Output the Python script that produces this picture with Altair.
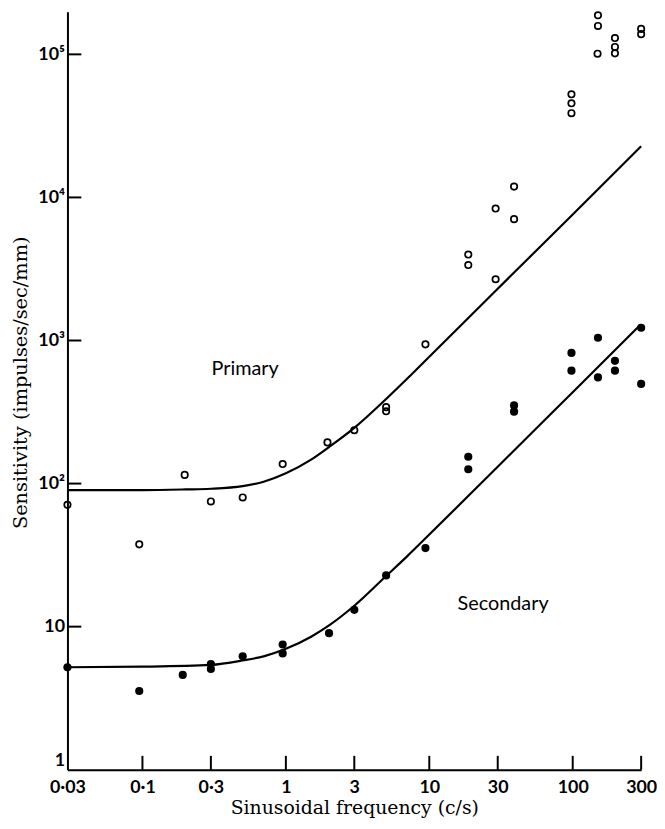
import json
import altair as alt
import pandas as pd

# ---- data ----
prim_f = [0.03, 0.095, 0.197, 0.3, 0.5, 0.95, 1.95, 3, 5, 5, 9.4, 18.7, 18.7, 29, 29,
          39, 39, 98, 98, 98, 150, 150, 149, 197, 197, 197, 300, 300]
prim_v = [71, 37.6, 115, 75, 80, 137, 194, 236, 342, 320, 940, 3990, 3370, 8360, 2680,
          11900, 7050, 52600, 45500, 38800, 187500, 158000, 101000, 130000, 112600, 101600,
          150600, 138400]

sec_f = [0.03, 0.095, 0.191, 0.3, 0.3, 0.5, 0.95, 0.95, 2, 3, 5, 9.4, 18.7, 18.7,
         39, 39, 98, 98, 150, 150, 197, 197, 300, 300]
sec_v = [5.2, 3.55, 4.6, 5.48, 5.06, 6.2, 7.5, 6.5, 9.0, 13.1, 22.8, 35.4, 154, 126,
         352, 318, 819, 615, 1045, 552, 721, 615, 1227, 497]

prim_curve_f = [0.03, 0.1, 0.2, 0.3, 0.5, 0.7, 1, 1.5, 2, 3, 5, 7, 10, 30, 100, 300]
prim_curve_v = [90, 90, 91, 92, 96, 103, 118, 147, 180, 245, 390, 540, 770, 2300, 7600, 22800]

sec_curve_f = [0.03, 0.1, 0.3, 0.5, 0.7, 1, 1.5, 2, 3, 5, 7, 10, 30, 100, 295]
sec_curve_v = [5.2, 5.25, 5.4, 5.8, 6.2, 7.0, 8.5, 10.2, 14, 22.6, 31, 44, 131, 435, 1280]

x_ticks = [0.03, 0.1, 0.3, 1, 3, 10, 30, 100, 300]
x_tick_labels = ["0·03", "0·1", "0·3", "1", "3", "10", "30", "100", "300"]
y_ticks = [1, 10, 100, 1000, 10000, 100000]
y_tick_labels = ["1", "10", "10²", "10³", "10⁴", "10⁵"]

note_text = ["Primary", "Secondary"]
note_f = [0.52, 32.7]
note_v = [635, 14.5]

# ---- layout ----
W, H = 579, 765
TICK = 14
xscale = alt.Scale(type="log", domain=[0.03, 300], nice=False)
yscale = alt.Scale(type="log", domain=[1, 198600], nice=False)

x_expr = f"{json.dumps(x_tick_labels, ensure_ascii=False)}[indexof({json.dumps(x_ticks)}, datum.value)]"
y_expr = f"{json.dumps(y_tick_labels, ensure_ascii=False)}[indexof({json.dumps(y_ticks)}, datum.value)]"

x_axis = alt.Axis(
    values=x_ticks, labelExpr=x_expr, ticks=False, grid=False,
    domainColor="black", domainWidth=2, labelColor="black",
    labelFont="Lato", labelFontSize=18, labelFontWeight="bold", labelPadding=9,
    labelOverlap=False, labelFlush=False,
    title="Sinusoidal frequency (c/s)", titleFont="DejaVu Serif", titleFontSize=19,
    titleFontWeight="normal", titleColor="black",
    titleY=38, titleBaseline="middle",
)
y_axis = alt.Axis(
    values=y_ticks, labelExpr=y_expr, ticks=False, grid=False,
    domainColor="black", domainWidth=2, labelColor="black",
    labelFont="Lato", labelFontSize=18, labelFontWeight="bold", labelPadding=3,
    labelBaseline={"condition": {"test": "datum.value == 1", "value": "bottom"},
                   "value": "middle"},
    labelOverlap=False, labelFlush=False,
    title="Sensitivity (impulses/sec/mm)", titleFont="DejaVu Serif", titleFontSize=19.5,
    titleFontWeight="normal", titleColor="black",
    titleX=-47, titleY=374, titleAngle=270, titleBaseline="middle", titleAlign="center",
)


def xe(field="f"):
    return alt.X(f"{field}:Q", scale=xscale, axis=x_axis)


def ye(field="v"):
    return alt.Y(f"{field}:Q", scale=yscale, axis=y_axis)


prim_df = pd.DataFrame({"f": prim_f, "v": prim_v})
sec_df = pd.DataFrame({"f": sec_f, "v": sec_v})
curve_df = pd.DataFrame({
    "f": prim_curve_f + sec_curve_f,
    "v": prim_curve_v + sec_curve_v,
    "s": ["Primary"] * len(prim_curve_f) + ["Secondary"] * len(sec_curve_f),
})
xt_df = pd.DataFrame({"f": x_ticks[1:]})
yt_df = pd.DataFrame({"v": y_ticks[1:]})
note_df = pd.DataFrame({"f": note_f, "v": note_v, "t": note_text})

curves = alt.Chart(curve_df).mark_line(
    color="black", strokeWidth=2.2, interpolate="monotone"
).encode(x=xe(), y=ye(), detail="s:N")

open_pts = alt.Chart(prim_df).mark_point(
    shape="circle", filled=False, stroke="black", strokeWidth=1.7, size=42, opacity=1
).encode(x=xe(), y=ye())

filled_pts = alt.Chart(sec_df).mark_circle(color="black", size=68, opacity=1).encode(
    x=xe(), y=ye()
)

x_tick_rules = alt.Chart(xt_df).mark_rule(color="black", strokeWidth=2).encode(
    x=xe(), y=alt.value(H - TICK), y2=alt.value(H)
)
y_tick_rules = alt.Chart(yt_df).mark_rule(color="black", strokeWidth=2).encode(
    y=ye(), x=alt.value(0), x2=alt.value(TICK)
)

notes = alt.Chart(note_df).mark_text(
    font="Lato", fontSize=20, color="black", align="center", baseline="middle"
).encode(x=xe(), y=ye(), text="t:N")

chart = alt.layer(
    curves, open_pts, filled_pts, x_tick_rules, y_tick_rules, notes
).properties(
    width=W, height=H,
    autosize=alt.AutoSizeParams(type="none"),
    padding={"left": 60, "top": 0, "right": 16, "bottom": 48},
    background="white",
).configure_view(stroke=None)

chart.save("out.html", embed_options={"renderer": "svg", "actions": False})
